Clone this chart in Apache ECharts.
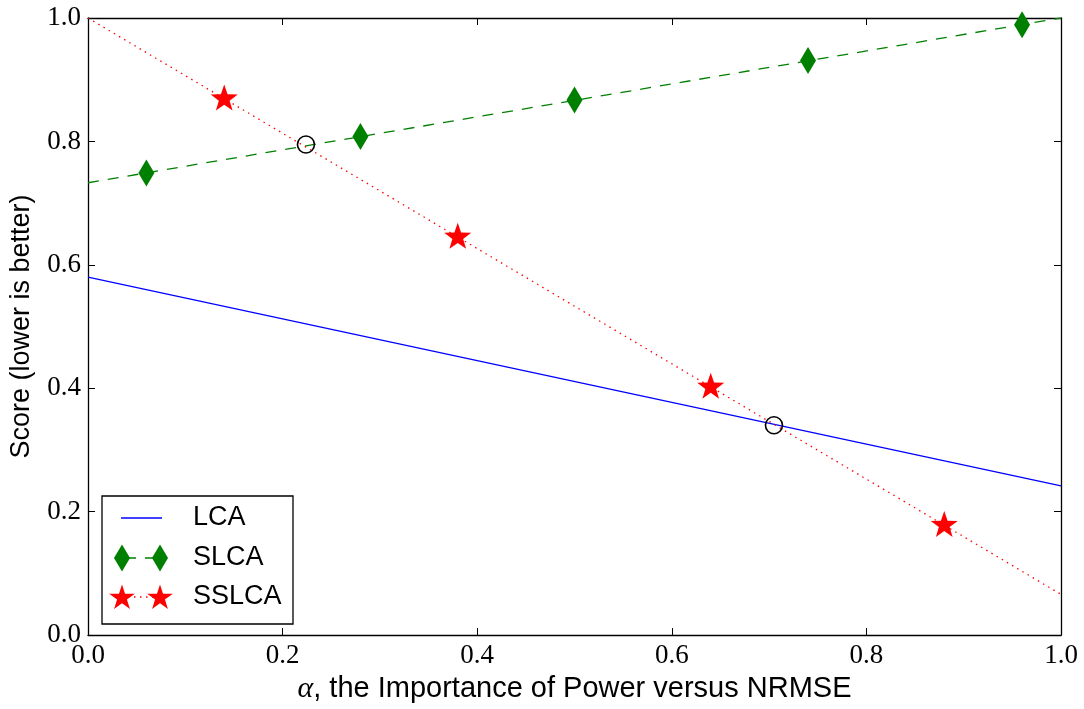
<!DOCTYPE html>
<html>
<head>
<meta charset="utf-8">
<script src="https://cdn.jsdelivr.net/npm/echarts@6/dist/echarts.min.js"></script>
<style>html,body{margin:0;padding:0;background:#fff}#c{width:1084px;height:709px}</style>
</head>
<body>
<div id="c"></div>
<script>
// ---- data ----
const lineX = [0, 1];
const lcaLine = [0.58, 0.242];
const slcaLine = [0.733, 1.0];
const sslcaLine = [1.0, 0.066];
const slcaX = [0.06, 0.28, 0.50, 0.74, 0.96];
const slcaY = [0.749, 0.808, 0.867, 0.931, 0.989];
const sslcaX = [0.14, 0.38, 0.64, 0.88];
const sslcaY = [0.869, 0.645, 0.402, 0.178];
const crossX = [0.224, 0.705];
const crossY = [0.795, 0.340];
const legendNames = ['LCA', 'SLCA', 'SSLCA'];
const xTitle = '{a|α}, the Importance of Power versus NRMSE';
const yTitle = 'Score (lower is better)';

const zip = (xs, ys) => xs.map((x, i) => [x, ys[i]]);
const STAR = 'path://M0,-10L2.35,-3.24L9.51,-3.09L3.80,1.24L5.88,8.09L0,4L-5.88,8.09L-3.80,1.24L-9.51,-3.09L-2.35,-3.24Z';
const serif = 'Liberation Serif';
const sans = 'Liberation Sans';

function starPts(cx, cy, R) {
  const pts = [];
  const r = R * 0.382;
  for (let i = 0; i < 10; i++) {
    const a = -Math.PI / 2 + i * Math.PI / 5;
    const rr = i % 2 === 0 ? R : r;
    pts.push([cx + rr * Math.cos(a), cy + rr * Math.sin(a)]);
  }
  return pts;
}
function diamondPts(cx, cy, w, h) {
  return [[cx, cy - h / 2], [cx + w / 2, cy], [cx, cy + h / 2], [cx - w / 2, cy]];
}

const chart = echarts.init(document.getElementById('c'), null, {renderer: 'canvas'});
const axisCommon = {
  type: 'value', min: 0, max: 1, interval: 0.2,
  axisLine: {show: true, onZero: false, lineStyle: {color: '#000', width: 1.3}},
  axisTick: {show: true, inside: true, length: 7, lineStyle: {color: '#000', width: 1}},
  splitLine: {show: false}
};
const labelCommon = {
  fontFamily: serif, fontSize: 27, color: '#000',
  formatter: v => v.toFixed(1)
};

const legendX0 = 102, legendY0 = 496;
const rows = [518, 558, 597];
const graphics = [
  {type: 'rect', shape: {x: legendX0, y: legendY0, width: 191, height: 128},
   style: {fill: '#fff', stroke: '#000', lineWidth: 1.3}, z: 100},
  {type: 'line', shape: {x1: 121, y1: rows[0], x2: 162, y2: rows[0]},
   style: {stroke: '#0000ff', lineWidth: 1.3}, z: 101},
  {type: 'line', shape: {x1: 122, y1: rows[1], x2: 160, y2: rows[1]},
   style: {stroke: '#008000', lineWidth: 1.3, lineDash: [11, 9], lineDashOffset: -3}, z: 101},
  {type: 'polygon', shape: {points: diamondPts(122, rows[1], 16, 27)},
   style: {fill: '#008000'}, z: 102},
  {type: 'polygon', shape: {points: diamondPts(160, rows[1], 16, 27)},
   style: {fill: '#008000'}, z: 102},
  {type: 'line', shape: {x1: 122, y1: rows[2], x2: 160, y2: rows[2]},
   style: {stroke: '#ff0000', lineWidth: 1.3, lineDash: [1.5, 4.5]}, z: 101},
  {type: 'polygon', shape: {points: starPts(122, rows[2] + 1, 13.5)},
   style: {fill: '#ff0000'}, z: 102},
  {type: 'polygon', shape: {points: starPts(160, rows[2] + 1, 13.5)},
   style: {fill: '#ff0000'}, z: 102}
];
legendNames.forEach((n, i) => {
  graphics.push({type: 'text', x: 193, y: rows[i], z: 103,
    style: {text: n, fontFamily: sans, fontSize: 27, fill: '#000', verticalAlign: 'middle', align: 'left'}});
});

chart.setOption({
  animation: false,
  backgroundColor: '#fff',
  grid: {left: 88, right: 23, top: 18, bottom: 68, containLabel: false},
  xAxis: [
    Object.assign({}, axisCommon, {
      position: 'bottom',
      axisLabel: Object.assign({margin: 7}, labelCommon),
      name: xTitle, nameLocation: 'middle', nameGap: 36,
      nameTextStyle: {fontFamily: sans, fontSize: 29, color: '#000',
        rich: {a: {fontFamily: serif, fontStyle: 'italic', fontSize: 30, color: '#000'}}}
    }),
    Object.assign({}, axisCommon, {position: 'top', axisLabel: {show: false}})
  ],
  yAxis: [
    Object.assign({}, axisCommon, {
      position: 'left',
      axisLabel: Object.assign({margin: 7}, labelCommon),
      name: yTitle, nameLocation: 'middle', nameGap: 53,
      nameTextStyle: {fontFamily: sans, fontSize: 27, color: '#000'}
    }),
    Object.assign({}, axisCommon, {position: 'right', axisLabel: {show: false}})
  ],
  series: [
    {name: 'LCA', type: 'line', data: zip(lineX, lcaLine), showSymbol: false, symbol: 'none',
     lineStyle: {color: '#0000ff', width: 1.3}, z: 2},
    {name: 'SLCA', type: 'line', data: zip(lineX, slcaLine), showSymbol: false, symbol: 'none',
     lineStyle: {color: '#008000', width: 1.3, type: [11, 9]}, z: 2},
    {name: 'SSLCA', type: 'line', data: zip(lineX, sslcaLine), showSymbol: false, symbol: 'none',
     lineStyle: {color: '#ff0000', width: 1.3, type: [1.5, 4.5]}, z: 2},
    {name: 'SLCA markers', type: 'scatter', data: zip(slcaX, slcaY), symbol: 'diamond',
     symbolSize: [16, 27], itemStyle: {color: '#008000', opacity: 1}, z: 3},
    {name: 'SSLCA markers', type: 'scatter', data: zip(sslcaX, sslcaY), symbol: STAR,
     symbolSize: [27, 26], symbolOffset: [0, -1.3], itemStyle: {color: '#ff0000', opacity: 1}, z: 3},
    {name: 'Intersections', type: 'scatter', data: zip(crossX, crossY), symbol: 'circle',
     symbolSize: 17, itemStyle: {color: 'rgba(0,0,0,0)', borderColor: '#000', borderWidth: 1.6, opacity: 1}, z: 4}
  ],
  graphic: graphics
});
</script>
</body>
</html>
